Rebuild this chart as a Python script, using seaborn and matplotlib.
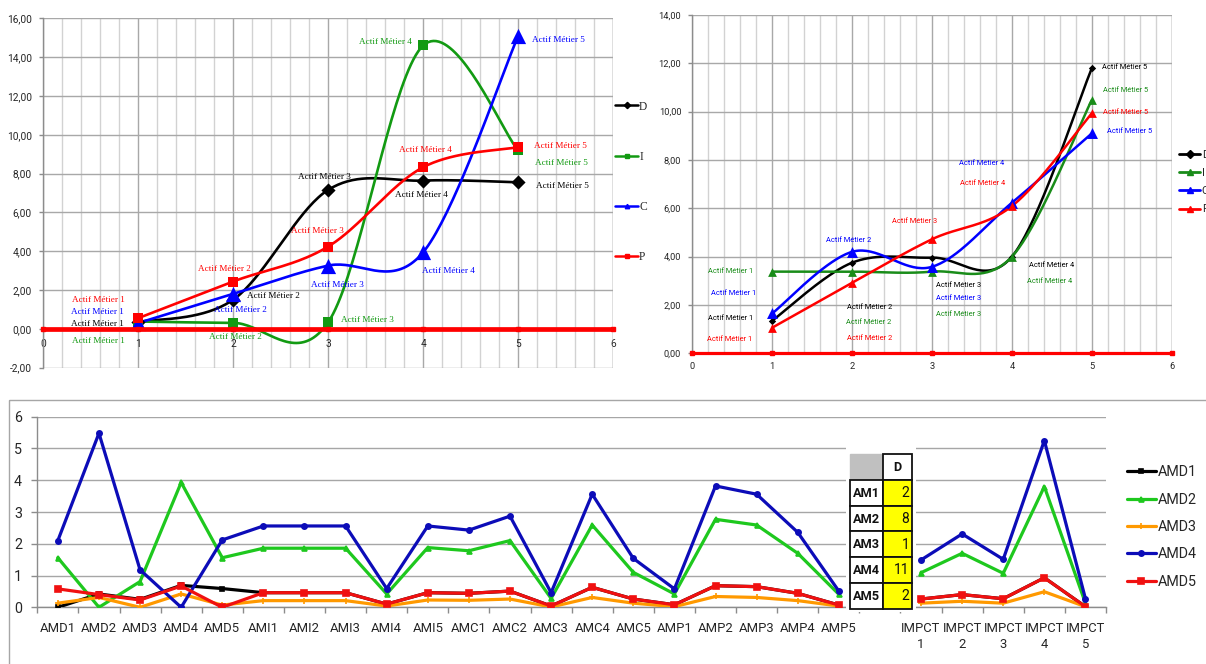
import numpy as np
import matplotlib
matplotlib.use("Agg")
import matplotlib.pyplot as plt
from matplotlib.lines import Line2D
from matplotlib.patches import Rectangle
import seaborn as sns

# ---------------- data ----------------
metier_x = [1, 2, 3, 4, 5]
metier_labels = ["Actif Métier 1", "Actif Métier 2", "Actif Métier 3",
                 "Actif Métier 4", "Actif Métier 5"]
profile_names = ["D", "I", "C", "P"]

# first profile chart (values per actif métier)
left_D = [0.35, 1.50, 7.16, 7.64, 7.55]
left_I = [0.38, 0.31, 0.34, 14.60, 9.19]
left_C = [0.30, 1.80, 3.26, 3.95, 15.10]
left_P = [0.55, 2.44, 4.24, 8.33, 9.36]

# second profile chart
right_D = [1.35, 3.75, 3.96, 4.00, 11.79]
right_I = [3.38, 3.38, 3.38, 4.00, 10.48]
right_C = [1.65, 4.20, 3.58, 6.23, 9.10]
right_P = [1.06, 2.92, 4.72, 6.09, 9.93]

# zero reference series drawn along the horizontal axis
baseline_x = [0, 1, 2, 3, 4, 5, 6]
baseline_y = [0, 0, 0, 0, 0, 0, 0]

# bottom chart
bottom_categories = ["AMD1", "AMD2", "AMD3", "AMD4", "AMD5",
                     "AMI1", "AMI2", "AMI3", "AMI4", "AMI5",
                     "AMC1", "AMC2", "AMC3", "AMC4", "AMC5",
                     "AMP1", "AMP2", "AMP3", "AMP4", "AMP5",
                     "",
                     "IMPCT\n1", "IMPCT\n2", "IMPCT\n3", "IMPCT\n4", "IMPCT\n5"]
nan = np.nan
amd1 = [0.00, 0.42, 0.25, 0.69, 0.59, 0.46, 0.46, 0.46, 0.10, 0.46,
        0.44, 0.51, 0.04, 0.63, 0.26, 0.08, 0.68, 0.65, 0.44, 0.07,
        nan, 0.26, 0.40, 0.27, 0.93, 0.02]
amd2 = [1.56, 0.00, 0.81, 3.93, 1.56, 1.86, 1.86, 1.86, 0.42, 1.88,
        1.78, 2.10, 0.28, 2.59, 1.10, 0.42, 2.77, 2.59, 1.70, 0.41,
        nan, 1.09, 1.70, 1.07, 3.80, 0.13]
amd3 = [0.13, 0.31, 0.00, 0.42, 0.07, 0.21, 0.21, 0.21, 0.04, 0.23,
        0.22, 0.26, 0.01, 0.31, 0.13, 0.02, 0.34, 0.31, 0.21, 0.04,
        nan, 0.13, 0.19, 0.13, 0.49, 0.02]
amd4 = [2.10, 5.48, 1.18, 0.00, 2.12, 2.56, 2.56, 2.56, 0.59, 2.56,
        2.43, 2.87, 0.46, 3.56, 1.54, 0.58, 3.82, 3.56, 2.36, 0.51,
        nan, 1.49, 2.31, 1.51, 5.25, 0.27]
amd5 = [0.58, 0.40, 0.23, 0.67, 0.00, 0.46, 0.46, 0.46, 0.10, 0.46,
        0.44, 0.51, 0.04, 0.63, 0.26, 0.08, 0.68, 0.65, 0.44, 0.07,
        nan, 0.26, 0.40, 0.27, 0.93, 0.02]
bottom_series_names = ["AMD1", "AMD2", "AMD3", "AMD4", "AMD5"]

# small summary table
table_header = "D"
table_rows = ["AM1", "AM2", "AM3", "AM4", "AM5"]
table_values = [2, 8, 1, 11, 2]

# ---------------- style ----------------
W, H = 1206, 664
sns.set_theme(style="white")
plt.rcParams["font.family"] = ["Roboto", "DejaVu Sans"]
SERIF = ["Liberation Serif", "DejaVu Serif"]

fig = plt.figure(figsize=(W / 100, H / 100), dpi=100)
fig.patch.set_facecolor("white")


def px_rect(x0, y0, x1, y1):
    return [x0 / W, 1 - y1 / H, (x1 - x0) / W, (y1 - y0) / H]


def smooth_curve(xs, ys, n=40):
    """Cubic Bezier smoothing through every point (spreadsheet-style)."""
    p = np.column_stack([xs, ys]).astype(float)
    out = []
    for i in range(len(p) - 1):
        p0 = p[i - 1] if i > 0 else p[i]
        p1, p2 = p[i], p[i + 1]
        p3 = p[i + 2] if i + 2 < len(p) else p[i + 1]
        c1 = p1 + (p2 - p0) / 6.0
        c2 = p2 - (p3 - p1) / 6.0
        t = np.linspace(0, 1, n)[:, None]
        seg = ((1 - t) ** 3) * p1 + 3 * ((1 - t) ** 2) * t * c1 \
            + 3 * (1 - t) * (t ** 2) * c2 + (t ** 3) * p2
        out.append(seg if i == 0 else seg[1:])
    return np.vstack(out)


def comma_fmt(v):
    return f"{v:.2f}".replace(".", ",")


# frame around the bottom chart
under = fig.add_axes([0, 0, 1, 1], zorder=0)
under.set_xlim(0, W)
under.set_ylim(H, 0)
under.axis("off")
under.add_patch(Rectangle((8.5, 399.5), 1300, 400, fill=False,
                          edgecolor="#a6a6a6", lw=1.0))


def profile_axes(ax, ymin, ymax, label_size, tick_pad_y, tick_pad_x):
    ax.set_facecolor("white")
    ax.set_xlim(0, 6)
    ax.set_ylim(ymin, ymax)
    yt = np.arange(ymin, ymax + 0.01, 2)
    ax.set_yticks(yt)
    ax.set_yticklabels([comma_fmt(v) for v in yt])
    ax.set_xticks(range(7))
    ax.set_xticks(np.arange(0, 6.01, 0.2), minor=True)
    ax.grid(axis="x", which="minor", color="#d2d2d2", lw=1.0)
    ax.grid(axis="x", which="major", color="#a8a8a8", lw=1.0)
    ax.grid(axis="y", which="major", color="#a8a8a8", lw=1.0)
    ax.set_axisbelow(True)
    for s in ("top", "right"):
        ax.spines[s].set_visible(False)
    ax.spines["left"].set_color("#8c8c8c")
    ax.spines["left"].set_linewidth(1.0)
    ax.spines["bottom"].set_position(("data", 0))
    ax.spines["bottom"].set_visible(False)
    ax.tick_params(axis="y", which="major", left=True, length=3, width=1,
                   color="#8c8c8c", labelsize=label_size, pad=tick_pad_y,
                   labelcolor="#262626")
    ax.tick_params(axis="x", which="major", bottom=True, length=0,
                   labelsize=label_size, pad=tick_pad_x, labelcolor="#262626")
    ax.tick_params(which="minor", length=0)


def draw_profile(ax, series, styles, lw, base_lw, label_font, label_size,
                 offsets):
    for name, vals in series:
        st = styles[name]
        curve = smooth_curve(metier_x, vals)
        ax.plot(curve[:, 0], curve[:, 1], color=st["color"], lw=lw,
                solid_capstyle="round", zorder=3)
        sns.scatterplot(x=metier_x, y=vals, ax=ax, marker=st["marker"],
                        s=st["s"], color=st["color"], linewidth=0,
                        zorder=4, legend=False)
        for i, (xv, yv) in enumerate(zip(metier_x, vals)):
            dx, dy, ha = offsets[name][i]
            ax.annotate(metier_labels[i], (xv, yv), xytext=(dx, dy),
                        textcoords="offset pixels", ha=ha, va="center",
                        fontsize=label_size, family=label_font,
                        color=st["color"], zorder=6)
    ax.plot(baseline_x, baseline_y, color="#ff0000", lw=base_lw,
            marker="s", ms=2.5, zorder=5, clip_on=False)


# ---------------- top-left chart ----------------
ax1 = fig.add_axes(px_rect(43, 18.3, 613.3, 367.7), zorder=2)
profile_axes(ax1, -2, 16, 7.3, 5, 7)
styles1 = {
    "D": dict(color="#000000", marker="D", s=52),
    "I": dict(color="#129a12", marker="s", s=44),
    "C": dict(color="#0000ff", marker="^", s=120),
    "P": dict(color="#ff0000", marker="s", s=52),
}
offsets1 = {
    "D": [(-14, -1.5, "right"), (14, 3.5, "left"), (-4, 13, "center"),
          (-1.5, -14, "center"), (18, -4, "left")],
    "I": [(-13, -19, "right"), (2, -14.5, "center"), (13, 2.7, "left"),
          (-11, 3.3, "right"), (17, -12.3, "left")],
    "C": [(-14, 10.8, "right"), (7.5, -15.6, "center"), (9, -19, "center"),
          (-1, -19, "left"), (14, -4, "left")],
    "P": [(-13, 18.7, "right"), (-9, 13, "center"), (-11, 16, "center"),
          (2, 16.7, "center"), (16, 0.7, "left")],
}
draw_profile(ax1, [("D", left_D), ("I", left_I), ("C", left_C), ("P", left_P)],
             styles1, 1.9, 3.4, SERIF, 6.6, offsets1)
ax1.plot([6, 6], [-2, 16], color="#a8a8a8", lw=1.0, zorder=1)

h1 = [Line2D([], [], color=styles1[n]["color"], lw=1.8,
             marker=styles1[n]["marker"], ms=3.2) for n in profile_names]
fig.legend(h1, profile_names, loc="upper left",
           bbox_to_anchor=(615 / W, 1 - 100.5 / H), frameon=False,
           prop={"family": SERIF, "size": 8.3}, handlelength=2.0,
           handletextpad=0.1, labelspacing=3.3, borderpad=0,
           borderaxespad=0)

# ---------------- top-right chart ----------------
ax2 = fig.add_axes(px_rect(692.3, 15, 1171.7, 353.3), zorder=2)
profile_axes(ax2, 0, 14, 6.7, 5, 6)
styles2 = {
    "D": dict(color="#000000", marker="D", s=14),
    "I": dict(color="#198c19", marker="^", s=40),
    "C": dict(color="#0000ff", marker="^", s=62),
    "P": dict(color="#ff0000", marker="^", s=40),
}
offsets2 = {
    "D": [(-19, 2.4, "right"), (-5.4, -45, "left"), (3.5, -28, "left"),
          (17, -8.6, "left"), (10.3, 0.7, "left")],
    "I": [(-19, 0.6, "right"), (-6.1, -51, "left"), (4.5, -42.7, "left"),
          (15.2, -25.3, "left"), (11, 9.4, "left")],
    "C": [(-16.2, 19.7, "right"), (-3.4, 11.8, "center"), (3.5, -32.2, "left"),
          (-7.4, 38.8, "right"), (15, 2.4, "left")],
    "P": [(-19.6, -11.6, "right"), (-5.4, -55.5, "left"), (-17.7, 17.6, "center"),
          (-6.7, 22.9, "right"), (11, 0.7, "left")],
}
draw_profile(ax2, [("D", right_D), ("I", right_I), ("C", right_C), ("P", right_P)],
             styles2, 1.8, 2.3, ["Roboto", "DejaVu Sans"], 5.4, offsets2)
ax2.plot([6, 6], [0, 14], color="#a8a8a8", lw=1.0, zorder=1)

h2 = [Line2D([], [], color=styles2[n]["color"], lw=2.0,
             marker=styles2[n]["marker"], ms=4.2) for n in profile_names]
fig.legend(h2, profile_names, loc="upper left",
           bbox_to_anchor=(1179 / W, 1 - 149.5 / H), frameon=False,
           prop={"size": 8}, handlelength=1.9, handletextpad=0.15,
           labelspacing=0.75, borderpad=0, borderaxespad=0)

# ---------------- bottom chart ----------------
ax3 = fig.add_axes(px_rect(37.3, 416.7, 1106, 607.3), zorder=2)
ax3.set_facecolor("none")
idx = np.arange(len(bottom_categories))
bottom_styles = [
    (amd1, "#000000", "s", 3.4),
    (amd2, "#1ec81e", "^", 3.6),
    (amd3, "#ff9900", "+", 4.0),
    (amd4, "#0c0cb8", "o", 3.8),
    (amd5, "#f01010", "s", 4.0),
]
segments = [slice(0, 20), slice(21, 26)]
for vals, color, marker, ms in bottom_styles:
    v = np.asarray(vals, dtype=float)
    for seg in segments:
        sns.lineplot(x=idx[seg], y=v[seg], ax=ax3, color=color, lw=2.3,
                     marker=marker, markersize=ms, markeredgewidth=1.2,
                     markeredgecolor=color, estimator=None, sort=False,
                     legend=False, zorder=3)

ax3.set_xlim(-0.5, len(bottom_categories) - 0.5)
ax3.set_ylim(0, 6)
ax3.set_yticks(range(7))
ax3.set_xticks(idx)
ax3.set_xticklabels(bottom_categories, linespacing=1.3)
ax3.set_xticks(np.arange(-0.5, len(bottom_categories), 1), minor=True)
ax3.grid(axis="y", color="#a6a6a6", lw=1.0)
ax3.grid(axis="x", visible=False)
ax3.set_axisbelow(True)
for s in ("top", "right"):
    ax3.spines[s].set_visible(False)
for s in ("left", "bottom"):
    ax3.spines[s].set_color("#8c8c8c")
    ax3.spines[s].set_linewidth(1.0)
ax3.tick_params(axis="y", left=True, length=4, width=1, color="#8c8c8c",
                labelsize=10.3, pad=7, labelcolor="#262626")
ax3.tick_params(axis="x", which="major", bottom=True, length=0,
                labelsize=9.4, pad=10.5, labelcolor="#262626")
ax3.tick_params(axis="x", which="minor", bottom=True, length=4, width=1,
                color="#8c8c8c")

h3 = [Line2D([], [], color=c, lw=2.3, marker=m, ms=ms, markeredgewidth=1.2,
             markeredgecolor=c) for _, c, m, ms in bottom_styles]
fig.legend(h3, bottom_series_names, loc="upper left",
           bbox_to_anchor=(1126.5 / W, 1 - 465.5 / H), frameon=False,
           prop={"size": 10.3}, handlelength=2.05, handletextpad=0.15,
           labelspacing=0.93, borderpad=0, borderaxespad=0)

# ---------------- table overlay ----------------
over = fig.add_axes([0, 0, 1, 1], zorder=10)
over.set_xlim(0, W)
over.set_ylim(H, 0)
over.axis("off")
col_x = [850, 883.3, 912.3]
row_y = [454.3, 480, 505.7, 531.4, 557.1, 582.8, 608.5]
over.add_patch(Rectangle((846, 446), 70, 166, facecolor="white",
                         edgecolor="none"))
over.add_patch(Rectangle((col_x[0], row_y[0]), col_x[1] - col_x[0],
                         row_y[1] - row_y[0], facecolor="#c0c0c0",
                         edgecolor="#c0c0c0", lw=1.0))
over.add_patch(Rectangle((col_x[1], row_y[0]), col_x[2] - col_x[1],
                         row_y[1] - row_y[0], facecolor="white",
                         edgecolor="#111111", lw=1.3))
over.text((col_x[1] + col_x[2]) / 2, (row_y[0] + row_y[1]) / 2 + 0.5,
          table_header, ha="center", va="center", fontsize=9.2,
          fontweight="bold", color="#111111")
for r, (name, val) in enumerate(zip(table_rows, table_values)):
    y0, y1 = row_y[r + 1], row_y[r + 2]
    over.add_patch(Rectangle((col_x[0], y0), col_x[1] - col_x[0], y1 - y0,
                             facecolor="white", edgecolor="#111111", lw=1.3))
    over.add_patch(Rectangle((col_x[1], y0), col_x[2] - col_x[1], y1 - y0,
                             facecolor="#ffff00", edgecolor="#111111", lw=1.3))
    over.text(col_x[0] + 2.5, (y0 + y1) / 2 + 0.5, name, ha="left",
              va="center", fontsize=9.2, fontweight="bold", color="#111111")
    over.text(col_x[2] - 3, (y0 + y1) / 2 + 0.5, str(val), ha="right",
              va="center", fontsize=10, color="#111111")

fig.savefig("out.png", dpi=100, facecolor="white")
